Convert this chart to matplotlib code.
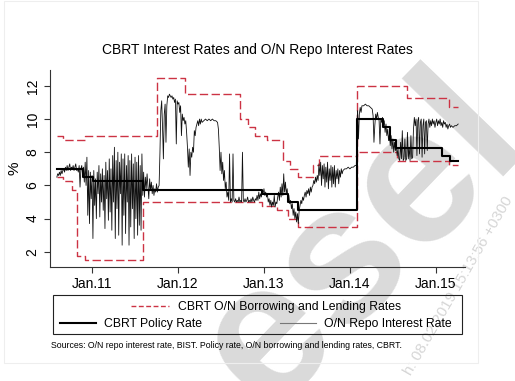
import matplotlib
matplotlib.use("Agg")
import matplotlib.pyplot as plt
from matplotlib.lines import Line2D
from matplotlib.patches import Rectangle

plt.rcParams['font.family'] = ['Liberation Sans', 'DejaVu Sans']

# CBRT policy rate (step changes, fractional years)
policy_t = [2010.59, 2010.90, 2011.01, 2011.59, 2012.98, 2013.28, 2013.40,
            2014.08, 2014.38, 2014.47, 2014.54, 2015.07, 2015.16, 2015.26]
policy_v = [7.0, 6.5, 6.25, 5.75, 5.5, 5.0, 4.5,
            10.0, 9.5, 8.75, 8.25, 7.75, 7.5, 7.5]

# O/N lending rate (upper corridor)
lend_t = [2010.59, 2010.66, 2010.92, 2011.76, 2012.08, 2012.72, 2012.81,
          2012.90, 2013.03, 2013.22, 2013.30, 2013.40, 2013.57, 2013.64,
          2014.08, 2014.66, 2015.15, 2015.26]
lend_v = [9.0, 8.75, 9.0, 12.5, 11.5, 10.0, 9.5,
          9.0, 8.75, 7.5, 7.0, 6.5, 7.25, 7.75,
          12.0, 11.25, 10.75, 10.75]

# O/N borrowing rate (lower corridor)
borrow_t = [2010.59, 2010.66, 2010.77, 2010.83, 2010.92, 2011.59, 2012.98,
            2013.15, 2013.28, 2013.40, 2014.08, 2014.55, 2015.15, 2015.26]
borrow_v = [6.5, 6.25, 5.75, 1.75, 1.5, 5.0, 4.75,
            4.5, 4.0, 3.5, 8.0, 7.5, 7.25, 7.25]

# O/N repo rate (BIST)
repo_t = [
    2010.59, 2010.60, 2010.61, 2010.62, 2010.63, 2010.64, 2010.65, 2010.66, 2010.67, 2010.68,
    2010.69, 2010.70, 2010.71, 2010.72, 2010.73, 2010.74, 2010.75, 2010.76, 2010.77, 2010.78,
    2010.79, 2010.80, 2010.81, 2010.82, 2010.83, 2010.84, 2010.85, 2010.86, 2010.87, 2010.88,
    2010.89, 2010.90, 2010.91, 2010.92, 2010.93, 2010.94, 2010.95, 2010.96, 2010.97, 2010.98,
    2010.99, 2011.00, 2011.01, 2011.02, 2011.03, 2011.04, 2011.05, 2011.06, 2011.07, 2011.08,
    2011.09, 2011.10, 2011.11, 2011.12, 2011.13, 2011.14, 2011.15, 2011.16, 2011.17, 2011.18,
    2011.19, 2011.20, 2011.21, 2011.22, 2011.23, 2011.24, 2011.25, 2011.26, 2011.27, 2011.28,
    2011.29, 2011.30, 2011.31, 2011.32, 2011.33, 2011.34, 2011.35, 2011.36, 2011.37, 2011.38,
    2011.39, 2011.40, 2011.41, 2011.42, 2011.43, 2011.44, 2011.45, 2011.46, 2011.47, 2011.48,
    2011.49, 2011.50, 2011.51, 2011.52, 2011.53, 2011.54, 2011.55, 2011.56, 2011.57, 2011.58,
    2011.59, 2011.60, 2011.61, 2011.62, 2011.63, 2011.64, 2011.65, 2011.66, 2011.67, 2011.68,
    2011.69, 2011.70, 2011.71, 2011.72, 2011.73, 2011.74, 2011.75, 2011.76, 2011.77, 2011.78,
    2011.79, 2011.80, 2011.81, 2011.82, 2011.83, 2011.84, 2011.85, 2011.86, 2011.87, 2011.88,
    2011.89, 2011.90, 2011.91, 2011.92, 2011.93, 2011.94, 2011.95, 2011.96, 2011.97, 2011.98,
    2011.99, 2012.00, 2012.01, 2012.02, 2012.03, 2012.04, 2012.05, 2012.06, 2012.07, 2012.08,
    2012.09, 2012.10, 2012.11, 2012.12, 2012.13, 2012.14, 2012.15, 2012.16, 2012.17, 2012.18,
    2012.19, 2012.20, 2012.21, 2012.22, 2012.23, 2012.24, 2012.25, 2012.26, 2012.27, 2012.28,
    2012.30, 2012.32, 2012.34, 2012.36, 2012.38, 2012.40, 2012.42, 2012.44, 2012.46, 2012.47,
    2012.48, 2012.49, 2012.50, 2012.51, 2012.52, 2012.53, 2012.54, 2012.55, 2012.56, 2012.57,
    2012.58, 2012.59, 2012.60, 2012.61, 2012.62, 2012.63, 2012.64, 2012.65, 2012.66, 2012.67,
    2012.68, 2012.69, 2012.70, 2012.71, 2012.72, 2012.73, 2012.74, 2012.75, 2012.76, 2012.77,
    2012.78, 2012.79, 2012.80, 2012.81, 2012.82, 2012.83, 2012.84, 2012.85, 2012.86, 2012.87,
    2012.88, 2012.89, 2012.90, 2012.91, 2012.92, 2012.93, 2012.94, 2012.95, 2012.96, 2012.97,
    2012.98, 2012.99, 2013.00, 2013.01, 2013.02, 2013.03, 2013.04, 2013.05, 2013.06, 2013.07,
    2013.08, 2013.09, 2013.10, 2013.11, 2013.12, 2013.13, 2013.14, 2013.15, 2013.16, 2013.17,
    2013.18, 2013.19, 2013.20, 2013.21, 2013.22, 2013.23, 2013.24, 2013.25, 2013.26, 2013.27,
    2013.28, 2013.29, 2013.30, 2013.31, 2013.32, 2013.33, 2013.34, 2013.35, 2013.36, 2013.37,
    2013.38, 2013.39, 2013.40, 2013.41, 2013.42, 2013.43, 2013.44, 2013.45, 2013.46, 2013.47,
    2013.48, 2013.49, 2013.50, 2013.51, 2013.52, 2013.53, 2013.54, 2013.55, 2013.56, 2013.57,
    2013.58, 2013.59, 2013.60, 2013.61, 2013.62, 2013.63, 2013.64, 2013.65, 2013.66, 2013.67,
    2013.68, 2013.69, 2013.70, 2013.71, 2013.72, 2013.73, 2013.74, 2013.75, 2013.76, 2013.77,
    2013.78, 2013.79, 2013.80, 2013.81, 2013.82, 2013.83, 2013.84, 2013.85, 2013.86, 2013.87,
    2013.88, 2013.89, 2013.90, 2013.91, 2013.92, 2013.94, 2013.96, 2013.98, 2014.00, 2014.02,
    2014.04, 2014.06, 2014.075, 2014.085, 2014.09, 2014.10, 2014.11, 2014.12, 2014.13, 2014.14,
    2014.16, 2014.18, 2014.20, 2014.22, 2014.24, 2014.26, 2014.27, 2014.28, 2014.29, 2014.30,
    2014.31, 2014.32, 2014.33, 2014.34, 2014.35, 2014.36, 2014.37, 2014.38, 2014.39, 2014.40,
    2014.41, 2014.42, 2014.43, 2014.44, 2014.45, 2014.46, 2014.47, 2014.48, 2014.49, 2014.50,
    2014.51, 2014.52, 2014.53, 2014.54, 2014.55, 2014.56, 2014.57, 2014.58, 2014.59, 2014.60,
    2014.61, 2014.62, 2014.63, 2014.64, 2014.65, 2014.66, 2014.67, 2014.68, 2014.69, 2014.70,
    2014.71, 2014.72, 2014.73, 2014.74, 2014.75, 2014.76, 2014.77, 2014.78, 2014.79, 2014.80,
    2014.81, 2014.82, 2014.83, 2014.84, 2014.85, 2014.86, 2014.87, 2014.88, 2014.89, 2014.90,
    2014.91, 2014.92, 2014.93, 2014.94, 2014.95, 2014.96, 2014.97, 2014.98, 2014.99, 2015.00,
    2015.01, 2015.02, 2015.03, 2015.04, 2015.05, 2015.06, 2015.07, 2015.08, 2015.09, 2015.10,
    2015.11, 2015.12, 2015.13, 2015.14, 2015.15, 2015.16, 2015.17, 2015.18, 2015.20, 2015.22,
    2015.24, 2015.26,
]
repo_v = [
    6.5, 6.7, 6.6, 6.8, 6.6, 6.9, 6.7, 6.9, 7.0, 6.8,
    7.1, 6.9, 7.2, 6.9, 7.1, 7.3, 6.9, 7.1, 7.0, 7.2,
    6.9, 7.1, 7.3, 6.9, 7.0, 6.8, 7.2, 5.9, 7.0, 7.2,
    6.6, 7.1, 6.2, 7.4, 6.0, 7.7, 4.2, 6.9, 3.7, 6.8,
    5.2, 6.6, 2.8, 6.9, 4.8, 6.4, 4.0, 6.8, 5.5, 7.2,
    4.1, 6.7, 5.0, 7.0, 4.5, 6.6, 3.4, 7.4, 5.2, 6.9,
    3.9, 7.6, 4.4, 7.0, 3.3, 7.8, 5.0, 8.3, 2.8, 7.5,
    4.6, 8.0, 3.0, 7.4, 5.5, 7.9, 2.4, 7.6, 4.2, 7.9,
    3.1, 7.2, 5.0, 7.8, 2.4, 7.5, 3.5, 7.9, 4.6, 7.3,
    2.8, 7.7, 4.0, 7.4, 3.0, 7.8, 3.6, 7.2, 3.3, 7.9,
    5.4, 6.8, 5.3, 6.5, 5.8, 6.7, 5.9, 5.2, 6.4, 5.7,
    6.2, 5.5, 6.0, 5.4, 5.8, 5.6, 6.1, 5.6, 5.9, 6.0,
    8.0, 10.5, 11.1, 9.5, 7.6, 10.3, 10.9, 8.6, 10.8, 11.4,
    11.3, 11.5, 11.4, 11.3, 11.4, 11.2, 11.3, 11.0, 11.2, 8.5,
    11.1, 10.9, 11.0, 10.4, 10.8, 9.0, 10.3, 9.9, 10.1, 9.7,
    9.9, 9.2, 8.3, 7.1, 8.2, 6.6, 8.0, 7.7, 8.3, 8.0,
    9.3, 9.0, 9.5, 9.7, 9.9, 9.6, 10.0, 9.7, 10.0, 9.8,
    9.9, 10.0, 9.9, 10.0, 9.9, 10.0, 9.9, 9.9, 9.8, 9.4,
    8.3, 6.9, 8.0, 6.7, 7.4, 6.3, 6.9, 5.8, 6.2, 5.3,
    5.6, 5.1, 7.9, 5.0, 5.2, 5.0, 7.9, 5.1, 5.0, 5.2,
    5.0, 5.1, 5.0, 5.3, 5.0, 5.1, 5.0, 8.0, 5.1, 5.0,
    5.2, 5.0, 5.1, 5.3, 5.0, 5.1, 5.0, 5.2, 5.0, 5.3,
    5.1, 5.0, 5.2, 5.1, 5.4, 5.1, 5.6, 5.2, 5.5, 5.3,
    5.7, 5.5, 5.8, 5.4, 5.6, 5.3, 5.5, 5.0, 5.2, 4.8,
    5.1, 4.7, 5.0, 4.8, 5.4, 4.7, 5.0, 4.9, 5.3, 5.6,
    5.1, 5.9, 5.3, 6.1, 5.4, 6.7, 5.6, 6.2, 5.5, 5.8,
    5.2, 5.4, 4.9, 5.1, 4.6, 4.9, 4.2, 4.6, 4.0, 4.4,
    3.8, 4.3, 3.7, 4.5, 4.8, 5.1, 4.9, 5.3, 5.1, 5.4,
    5.6, 5.3, 5.7, 5.5, 5.8, 5.4, 5.9, 5.6, 5.9, 6.0,
    6.3, 6.1, 6.5, 6.2, 6.6, 6.3, 7.3, 6.6, 7.4, 6.0,
    7.2, 6.4, 7.3, 5.9, 7.1, 6.2, 7.4, 5.8, 7.0, 6.3,
    7.2, 5.9, 7.1, 6.1, 7.2, 5.9, 6.9, 6.4, 7.0, 6.1,
    6.9, 6.5, 7.0, 6.7, 6.9, 7.0, 7.0, 7.1, 7.0, 7.1,
    7.1, 7.2, 7.2, 10.0, 10.5, 8.8, 10.3, 10.7, 10.4, 10.8,
    10.8, 10.9, 10.8, 10.8, 10.7, 10.6, 10.2, 8.6, 9.6, 10.3,
    10.0, 10.4, 10.1, 9.9, 8.5, 10.0, 9.8, 10.1, 9.6, 9.9,
    9.2, 9.7, 9.0, 9.4, 8.7, 9.1, 8.4, 9.0, 8.2, 8.8,
    8.0, 8.6, 8.1, 8.4, 7.8, 8.2, 7.6, 7.5, 8.6, 7.6,
    9.3, 7.5, 7.6, 8.8, 7.5, 7.6, 9.2, 7.6, 8.3, 7.5,
    9.0, 7.6, 7.7, 9.4, 10.1, 9.6, 10.0, 7.8, 9.9, 10.1,
    7.9, 9.8, 10.0, 7.7, 9.6, 10.0, 7.9, 9.8, 9.9, 8.1,
    9.7, 10.0, 9.5, 9.9, 9.6, 10.0, 9.7, 9.9, 9.5, 9.8,
    10.0, 9.6, 9.9, 9.7, 10.0, 9.6, 9.8, 9.5, 9.9, 9.7,
    9.8, 9.5, 9.7, 9.4, 9.6, 9.7, 9.5, 9.6, 9.5, 9.6,
    9.6, 9.7,
]

year_ticks = [2011, 2012, 2013, 2014, 2015]
year_labels = ["Jan.11", "Jan.12", "Jan.13", "Jan.14", "Jan.15"]
y_ticks = [2, 4, 6, 8, 10, 12]

RED = "#cc3344"

fig = plt.figure(figsize=(5.15, 3.81), dpi=100)
ax = fig.add_axes([0.097, 0.299, 0.806, 0.517])
ax.patch.set_facecolor("none")

ax.step(lend_t, lend_v, where="post", color=RED, lw=1.0, dashes=(6, 2.5))
ax.step(borrow_t, borrow_v, where="post", color=RED, lw=1.0, dashes=(6, 2.5))
ax.plot(repo_t, repo_v, color="#111111", lw=0.6)
ax.step(policy_t, policy_v, where="post", color="black", lw=1.5)

ax.set_xlim(2010.51, 2015.34)
ax.set_ylim(1.08, 12.95)
ax.set_xticks(year_ticks)
ax.set_xticklabels(year_labels)
ax.set_yticks(y_ticks)
ax.set_yticklabels([str(v) for v in y_ticks], rotation=90, va="center")
ax.tick_params(axis="both", labelsize=10, length=4, width=0.8, color="#333333")
for s in ["top", "right"]:
    ax.spines[s].set_visible(False)
for s in ["left", "bottom"]:
    ax.spines[s].set_linewidth(0.8)
    ax.spines[s].set_color("#333333")
ax.set_ylabel("%", fontsize=11, labelpad=3)

fig.text(0.5, 0.869, "CBRT Interest Rates and O/N Repo Interest Rates",
         ha="center", va="center", fontsize=10)

# legend, laid out like the Stata key box
h_borrow = Line2D([], [], color=RED, lw=1.0, dashes=(3.5, 1.8))
h_policy = Line2D([], [], color="black", lw=1.5)
h_repo = Line2D([], [], color="#777777", lw=0.8)
fig.legend([h_borrow], ["CBRT O/N Borrowing and Lending Rates"],
           loc="center", bbox_to_anchor=(0.517, 1 - 307 / 381),
           frameon=False, fontsize=8.8, handlelength=3.1,
           handletextpad=0.7, borderpad=0)
fig.legend([h_policy, h_repo], ["CBRT Policy Rate", "O/N Repo Interest Rate"],
           ncol=2, loc="center", bbox_to_anchor=(255.5 / 515, 1 - 324 / 381),
           frameon=False, fontsize=8.8, handlelength=3.0,
           handletextpad=0.6, columnspacing=6.4, borderpad=0)
fig.add_artist(Rectangle((53 / 515, 1 - 334 / 381), 409 / 515, 39 / 381,
                         transform=fig.transFigure, fill=False,
                         edgecolor="#222222", lw=0.8))

fig.text(51 / 515, 1 - 346 / 381,
         "Sources: O/N repo interest rate, BIST. Policy rate, O/N borrowing and lending rates, CBRT.",
         ha="left", va="center", fontsize=6.3)

# faint outer graph region border
fig.add_artist(Rectangle((4 / 515, 1 - 363 / 381), 474 / 515, 362 / 381,
                         transform=fig.transFigure, fill=False,
                         edgecolor="#eeeeee", lw=0.8))

# viewer watermark, drawn behind the plot
fig.text(362 / 515, 1 - 242 / 381, "esel", rotation=46, rotation_mode="anchor",
         ha="center", va="center", fontsize=140, fontweight="bold",
         color="#dadada", zorder=-1)
fig.text(458 / 515, 1 - 286 / 381, "h: 08.02.2019 15:13:56 +0300", rotation=60,
         rotation_mode="anchor", ha="center", va="center", fontsize=11,
         color="#d6d6d6", zorder=-1)

fig.savefig("out.png", dpi=100)
